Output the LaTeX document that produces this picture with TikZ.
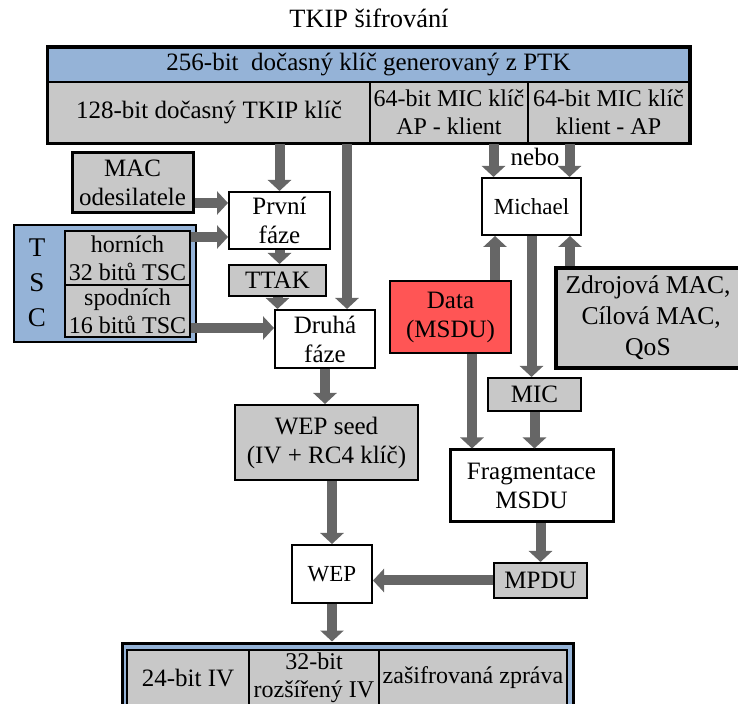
\documentclass[tikz,border=0pt]{standalone}
\usepackage{fontspec}
\setmainfont{Liberation Serif}
\usetikzlibrary{arrows.meta}
\definecolor{ptkblue}{RGB}{149,179,215}
\definecolor{boxgray}{RGB}{200,200,200}
\definecolor{flowgray}{RGB}{102,102,102}
\definecolor{datared}{RGB}{255,85,85}
\tikzset{
  base/.style = {draw=black, line width=1pt, align=center, inner sep=0pt,
                 font=\fontsize{12.5}{14.5}\selectfont},
  gbox/.style = {base, fill=boxgray},
  wbox/.style = {base, fill=white},
  bbox/.style = {base, fill=ptkblue},
  tight/.style = {font=\fontsize{12}{14.2}\selectfont},
  small/.style = {font=\fontsize{11.5}{13}\selectfont},
  % thick gray connectors with a wide head
  flow/.style = {draw=flowgray, line width=5pt,
                 -{Triangle[width=11.5pt,length=5.5pt]}},
}

\begin{document}
\begin{tikzpicture}[x=0.5pt, y=-0.5pt]
    \useasboundingbox (0,0) rectangle (738,704);

    \node[font=\fontsize{13.2}{15}\selectfont] (title) at (369,18) {TKIP šifrování};

    % key hierarchy
    \node[bbox, minimum width=320.5pt, minimum height=17pt] (ptk) at (368.5,65)
          {256-bit\ \ dočasný klíč generovaný z PTK};
    \node[gbox, minimum width=161pt, minimum height=30.5pt] (tkip) at (209,112.5)
          {128-bit dočasný TKIP klíč};
    \node[gbox, tight, minimum width=79pt, minimum height=30.5pt] (micap) at (449,112.5)
          {64-bit MIC klíč\\AP - klient};
    \node[gbox, tight, minimum width=80.5pt, minimum height=30.5pt] (micka) at (608.5,112.5)
          {64-bit MIC klíč\\klient - AP};
    \draw[line width=1.5pt] (ptk.north west) rectangle (micka.south east);

    % left branch: key mixing
    \node[gbox, line width=1.5pt, minimum width=60.5pt, minimum height=30pt] (mac) at (132.5,183)
          {MAC\\odesilatele};
    \node[wbox, minimum width=50.5pt, minimum height=28.5pt] (prvni) at (279.5,220.5) {První\\fáze};
    \node[bbox, minimum width=91pt, minimum height=58.5pt] (tsc) at (105,283.5) {};
    \node[font=\fontsize{13.5}{17.5}\selectfont, align=center] (tscl) at (37,283) {T\\S\\C};
    \node[gbox, tight, minimum width=62.5pt, minimum height=27pt] (horni) at (127.5,258)
          {horních\\32 bitů TSC};
    \node[gbox, tight, minimum width=62.5pt, minimum height=26pt] (spodni) at (127.5,311)
          {spodních\\16 bitů TSC};
    \node[gbox, minimum width=48.5pt, minimum height=15.5pt] (ttak) at (277.5,280.5) {TTAK};
    \node[wbox, minimum width=50pt, minimum height=29pt] (druha) at (325,339) {Druhá\\fáze};
    \node[gbox, minimum width=91.5pt, minimum height=37.5pt] (seed) at (326.5,442.5)
          {WEP seed\\(IV + RC4 klíč)};
    \node[wbox, small, minimum width=40pt, minimum height=29pt] (wep) at (332,574) {WEP};

    % right branch: MIC
    \node (nebo) at (535,157) {\fontsize{12.5}{14}\selectfont nebo};
    \node[wbox, small, minimum width=49.5pt, minimum height=28.5pt] (michael) at (531.5,206.5) {Michael};
    \node[base, fill=datared, minimum width=60.5pt, minimum height=36pt] (data) at (450.5,317)
          {Data\\(MSDU)};
    \node[gbox, line width=2pt, minimum width=92pt, minimum height=50pt,
          font=\fontsize{12.8}{15.5}\selectfont] (zdroj) at (648,318)
          {Zdrojová MAC,\\\ Cílová MAC,\\QoS};
    \node[gbox, minimum width=46.5pt, minimum height=16.5pt] (mic) at (534.5,394.5) {MIC};
    \node[wbox, line width=1.5pt, minimum width=81.5pt, minimum height=36pt] (frag) at (531.5,486)
          {Fragmentace\\MSDU};
    \node[gbox, minimum width=46.5pt, minimum height=17.5pt] (mpdu) at (540.5,580.5) {MPDU};

    % output frame
    \node[bbox, line width=1.5pt, minimum width=225.5pt, minimum height=34.5pt] (out) at (347.5,677.5) {};
    \node[gbox, minimum width=61pt, minimum height=28pt] (iv24) at (188,678) {24-bit IV};
    \node[gbox, tight, minimum width=65pt, minimum height=28pt] (iv32) at (314,678) {32-bit\\rozšířený IV};
    \node[gbox, tight, minimum width=94pt, minimum height=28pt] (msg) at (473,678)
          {zašifrovaná zpráva};

    \draw[flow] (prvni.north |- tkip.south) -- (prvni.north);
    \draw[flow] ([xshift=11pt]druha.north |- tkip.south) -- ([xshift=11pt]druha.north);
    \draw[flow] ([xshift=-19pt]michael.north |- micap.south) -- ([xshift=-19pt]michael.north);
    \draw[flow] ([xshift=19pt]michael.north |- micka.south) -- ([xshift=19pt]michael.north);
    \draw[flow] ([yshift=8.75pt]prvni.west -| mac.east) -- ([yshift=8.75pt]prvni.west);
    \draw[flow] ([yshift=-8.25pt]prvni.west -| horni.east) -- ([yshift=-8.25pt]prvni.west);
    \draw[flow] (prvni.south) -- (prvni.south |- ttak.north);
    \draw[flow] (ttak.south) -- (ttak.south |- druha.north);
    \draw[flow] ([yshift=5.5pt]druha.west -| spodni.east) -- ([yshift=5.5pt]druha.west);
    \draw[flow] (druha.south) -- (druha.south |- seed.north);
    \draw[flow] (wep.north |- seed.south) -- (wep.north);
    \draw[flow] (mpdu.west) -- (mpdu.west -| wep.east);
    \draw[flow] (wep.south) -- (wep.south |- out.north);
    \draw[flow] ([xshift=-18.25pt]michael.south |- data.north) -- ([xshift=-18.25pt]michael.south);
    \draw[flow] ([xshift=19.25pt]michael.south |- zdroj.north) -- ([xshift=19.25pt]michael.south);
    \draw[flow] (michael.south) -- (michael.south |- mic.north);
    \draw[flow] ([xshift=10.75pt]data.south) -- ([xshift=10.75pt]data.south |- frag.north);
    \draw[flow] (mic.south) -- (mic.south |- frag.north);
    \draw[flow] (mpdu.north |- frag.south) -- (mpdu.north);
\end{tikzpicture}
\end{document}
